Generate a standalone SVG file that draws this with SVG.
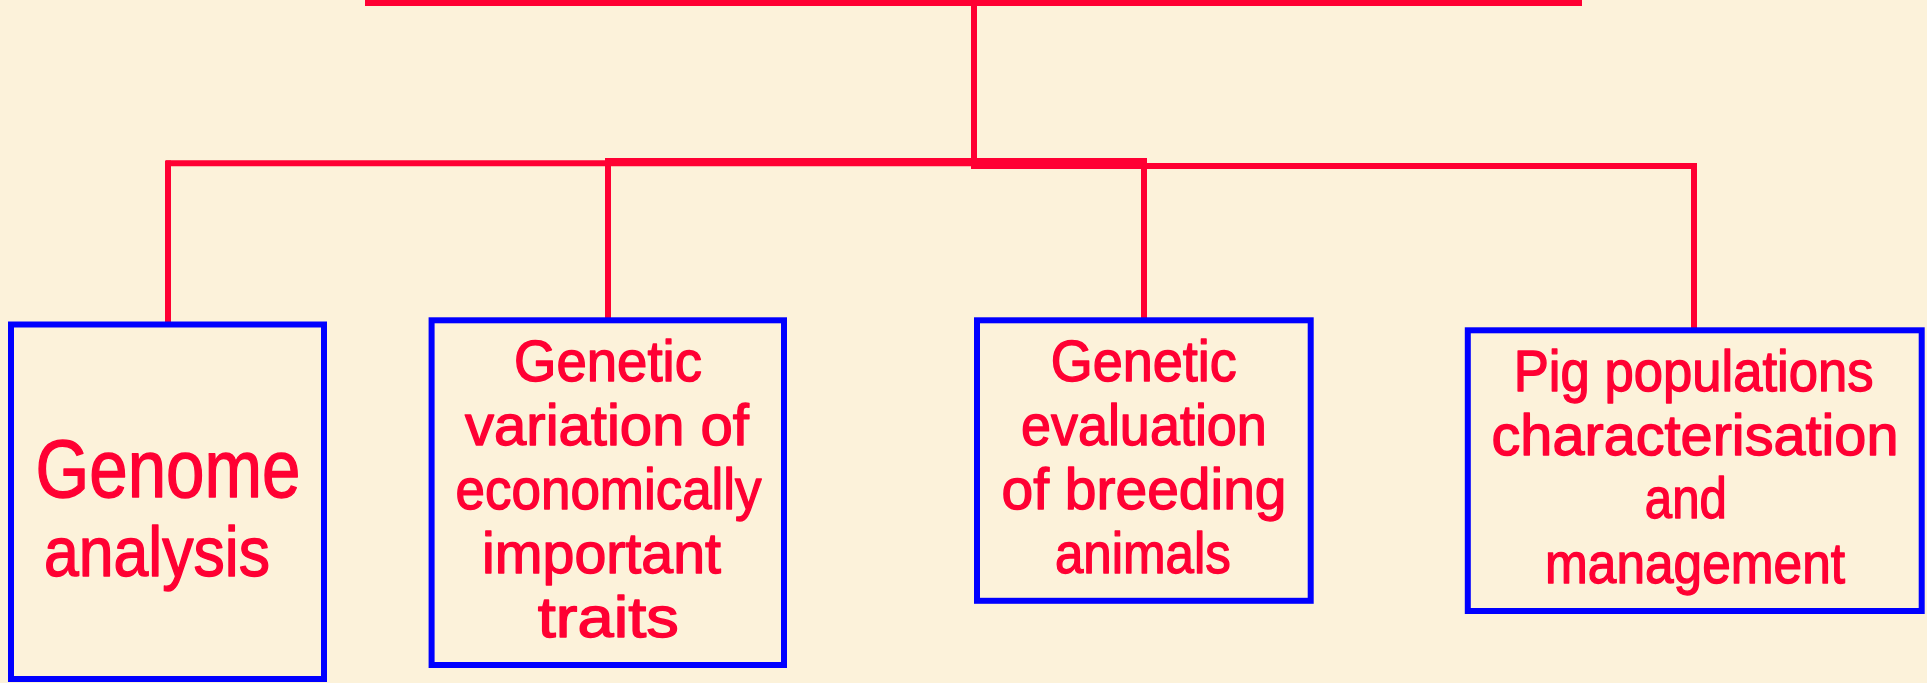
<svg xmlns="http://www.w3.org/2000/svg" width="1927" height="683" viewBox="0 0 1927 683">
  <style>
    .bg { fill: #FCF2DA; }
    .wire { fill: none; stroke: #FF0033; stroke-width: 6; stroke-linecap: butt; }
    .box { fill: none; stroke: #0000FF; stroke-width: 6; }
    .label { font-family: "Liberation Sans", "DejaVu Sans", sans-serif; fill: #FF0033; stroke: #FF0033; stroke-width: 1.4; stroke-linejoin: round; text-anchor: middle; }
    .mid { font-size: 58px; }
  </style>

  <rect class="bg" x="0" y="0" width="1927" height="683"/>

  <!-- connectors: top bar, stem, distribution rails, drops to each box -->
  <g id="connectors">
    <rect x="365" y="-2" width="1217" height="8" fill="#FF0033"/>
    <line class="wire" x1="974" y1="0" x2="974" y2="169"/>
    <line class="wire" x1="166" y1="163.3" x2="977" y2="163.3"/>
    <line class="wire" x1="606" y1="161" x2="1147" y2="161"/>
    <line class="wire" x1="971" y1="166" x2="1697" y2="166"/>
    <line class="wire" x1="168" y1="160.5" x2="168" y2="322"/>
    <line class="wire" x1="608" y1="158" x2="608" y2="318"/>
    <line class="wire" x1="1144" y1="163" x2="1144" y2="318"/>
    <line class="wire" x1="1694" y1="163" x2="1694" y2="328"/>
  </g>

  <g id="node-genome">
    <rect class="box" x="11" y="324.5" width="313" height="354.5"/>
    <text class="label" x="168" y="497" font-size="82" textLength="265" lengthAdjust="spacingAndGlyphs">Genome</text>
    <text class="label" x="157" y="576" font-size="70" textLength="226" lengthAdjust="spacingAndGlyphs">analysis</text>
  </g>

  <g id="node-variation">
    <rect class="box" x="431.6" y="320.3" width="352.4" height="344.7"/>
    <text class="label mid" x="608" y="381" textLength="188" lengthAdjust="spacingAndGlyphs">Genetic</text>
    <text class="label mid" x="607" y="445" textLength="284" lengthAdjust="spacingAndGlyphs">variation of</text>
    <text class="label mid" x="608.6" y="509" textLength="306" lengthAdjust="spacingAndGlyphs">economically</text>
    <text class="label mid" x="601.5" y="573" textLength="239" lengthAdjust="spacingAndGlyphs">important</text>
    <text class="label mid" x="608.3" y="637" textLength="141" lengthAdjust="spacingAndGlyphs">traits</text>
  </g>

  <g id="node-evaluation">
    <rect class="box" x="977" y="320.3" width="333.7" height="280.5"/>
    <text class="label mid" x="1143.8" y="381" textLength="186" lengthAdjust="spacingAndGlyphs">Genetic</text>
    <text class="label mid" x="1143.9" y="445" textLength="246" lengthAdjust="spacingAndGlyphs">evaluation</text>
    <text class="label mid" x="1144" y="509" textLength="285" lengthAdjust="spacingAndGlyphs">of breeding</text>
    <text class="label mid" x="1142.9" y="573" textLength="176" lengthAdjust="spacingAndGlyphs">animals</text>
  </g>

  <g id="node-populations">
    <rect class="box" x="1467.8" y="330.3" width="453.9" height="280.7"/>
    <text class="label mid" x="1693.7" y="391" textLength="360" lengthAdjust="spacingAndGlyphs">Pig populations</text>
    <text class="label mid" x="1695" y="455" textLength="407" lengthAdjust="spacingAndGlyphs">characterisation</text>
    <text class="label mid" x="1685.8" y="518" textLength="82" lengthAdjust="spacingAndGlyphs">and</text>
    <text class="label mid" x="1695" y="583" textLength="300" lengthAdjust="spacingAndGlyphs">management</text>
  </g>
</svg>
